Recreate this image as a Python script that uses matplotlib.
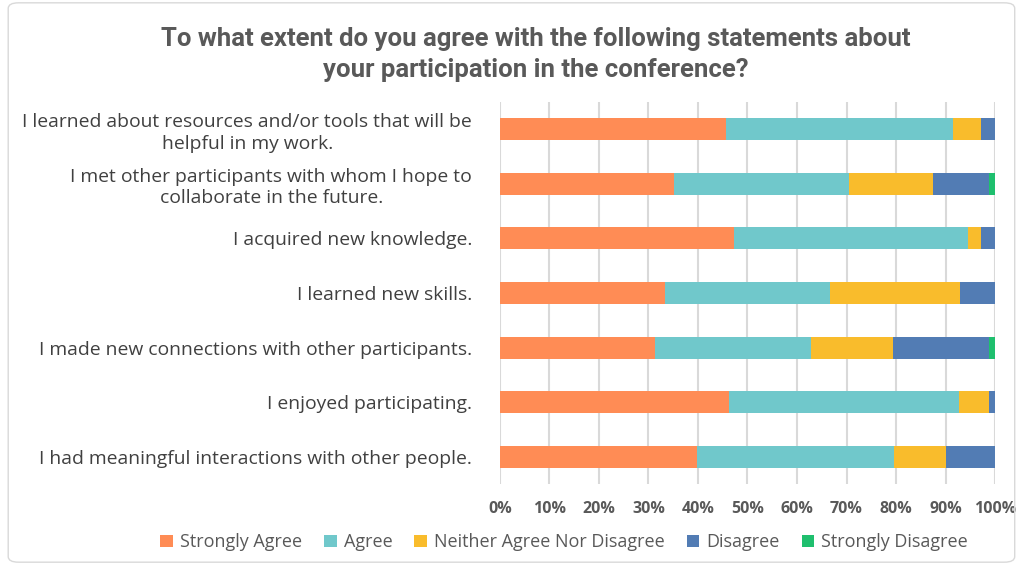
import matplotlib.pyplot as plt
import numpy as np
from matplotlib.patches import FancyBboxPatch
from matplotlib.ticker import FuncFormatter

statements = [
    "I learned about resources and/or tools that will be\nhelpful in my work.",
    "I met other participants with whom I hope to\ncollaborate in the future.",
    "I acquired new knowledge.",
    "I learned new skills.",
    "I made new connections with other participants.",
    "I enjoyed participating.",
    "I had meaningful interactions with other people.",
]
responses = ["Strongly Agree", "Agree", "Neither Agree Nor Disagree", "Disagree", "Strongly Disagree"]
strongly_agree = [45.7, 35.1, 47.2, 33.4, 31.4, 46.3, 39.7]
agree = [45.9, 35.4, 47.3, 33.3, 31.4, 46.4, 39.9]
neither = [5.6, 16.9, 2.7, 26.3, 16.5, 6.0, 10.4]
disagree = [2.8, 11.4, 2.8, 7.0, 19.4, 1.3, 10.0]
strongly_disagree = [0.0, 1.2, 0.0, 0.0, 1.3, 0.0, 0.0]
colors = ["#FF8C55", "#70C8CB", "#F9BC2C", "#527CB4", "#1FBF6E"]

series = [strongly_agree, agree, neither, disagree, strongly_disagree]

fig = plt.figure(figsize=(10.26, 5.65), dpi=100)
ax = fig.add_axes([0.4873, 0.143, 0.4825, 0.677])

y = np.arange(len(statements))
left = np.zeros(len(statements))
for name, vals, c in zip(responses, series, colors):
    vals = np.array(vals)
    ax.barh(y, vals, left=left, height=0.4, color=c, label=name, zorder=3)
    left += vals

ax.set_ylim(len(statements) - 0.5, -0.5)
ax.set_xlim(0, 100)
ax.set_xticks(range(0, 101, 10))
ax.xaxis.set_major_formatter(FuncFormatter(lambda v, p: f"{int(v)}%"))
ax.set_yticks(y)
ax.set_yticklabels(statements, fontsize=13.9, color="#404040", family="Open Sans", ha="right")
for lab in ax.get_yticklabels():
    lab.set_multialignment("center")
    lab.set_linespacing(1.25)
for lab in ax.get_xticklabels():
    lab.set_fontweight("bold")
    lab.set_fontsize(11.5)
    lab.set_color("#595959")
    lab.set_family("Open Sans")
ax.tick_params(axis="x", length=0, pad=12)
ax.tick_params(axis="y", length=0, pad=20)
ax.grid(axis="x", color="#D9D9D9", linewidth=1.5, zorder=0)
for s in ax.spines.values():
    s.set_visible(False)

fig.text(0.522, 0.904, "To what extent do you agree with the following statements about\nyour participation in the conference?",
         ha="center", va="center", fontsize=18.5, fontweight="bold", color="#595959",
         family="Roboto", linespacing=1.35)

leg = fig.legend(loc="center", bbox_to_anchor=(0.55, 0.04), ncol=5, frameon=False,
                 prop={"family": "Open Sans", "size": 13}, handlelength=0.7, handleheight=0.7,
                 columnspacing=1.2, handletextpad=0.4)
for t in leg.get_texts():
    t.set_color("#595959")

border = FancyBboxPatch((0.008, 0.005), 0.981, 0.99, boxstyle="round,pad=0,rounding_size=0.01",
                        transform=fig.transFigure, fill=False, edgecolor="#D9D9D9", linewidth=1)
fig.patches.append(border)

fig.savefig("out.png", dpi=100)
